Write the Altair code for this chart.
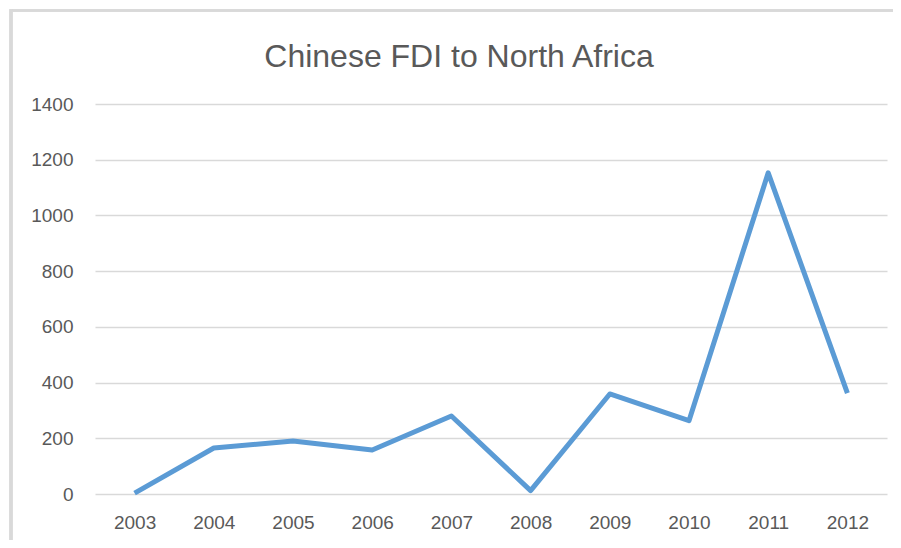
import altair as alt
import pandas as pd

years = ["2003", "2004", "2005", "2006", "2007", "2008", "2009", "2010", "2011", "2012"]
fdi = [3, 165, 190, 158, 280, 12, 359, 263, 1153, 362]
y_ticks = [0, 200, 400, 600, 800, 1000, 1200, 1400]

df = pd.DataFrame({"year": years, "fdi": fdi})

FONT = "Liberation Sans"
GREY = "#595959"

base = alt.Chart(df)

line = base.mark_line(color="#5B9BD5", strokeWidth=5, strokeJoin="round").encode(
    x=alt.X("year:O", sort=years,
            scale=alt.Scale(type="point", padding=0.5),
            axis=alt.Axis(title=None, labelAngle=0, domain=False, ticks=False,
                          labelPadding=19, labelFontSize=19, labelColor=GREY,
                          labelFont=FONT, grid=False)),
    y=alt.Y("fdi:Q",
            scale=alt.Scale(domain=[0, 1400], nice=False),
            axis=alt.Axis(title=None, values=y_ticks, format="d", domain=False,
                          ticks=False, labelPadding=22, labelFontSize=19,
                          labelColor=GREY, labelFont=FONT, grid=True,
                          gridColor="#d9d9d9", gridWidth=1.6)),
)

border_top = base.mark_rule(color="#d9d9d9", strokeWidth=2.2).encode(
    x=alt.value(-84), x2=alt.value(806), y=alt.value(-93.5)
)
border_left = base.mark_rule(color="#d9d9d9", strokeWidth=2.5).encode(
    x=alt.value(-84), y=alt.value(-94.5), y2=alt.value(450)
)

chart = alt.layer(border_top, border_left, line).properties(
    width=792,
    height=390,
    autosize=alt.AutoSizeParams(type="none"),
    padding={"left": 87, "top": 96, "right": 6, "bottom": 46},
    title=alt.TitleParams("Chinese FDI to North Africa", fontSize=32, font=FONT,
                          fontWeight="normal", color=GREY, anchor="middle",
                          dx=-32, offset=-91, baseline="alphabetic"),
).configure_view(stroke=None)

chart.save("out.html", embed_options={"renderer": "svg", "actions": False})
